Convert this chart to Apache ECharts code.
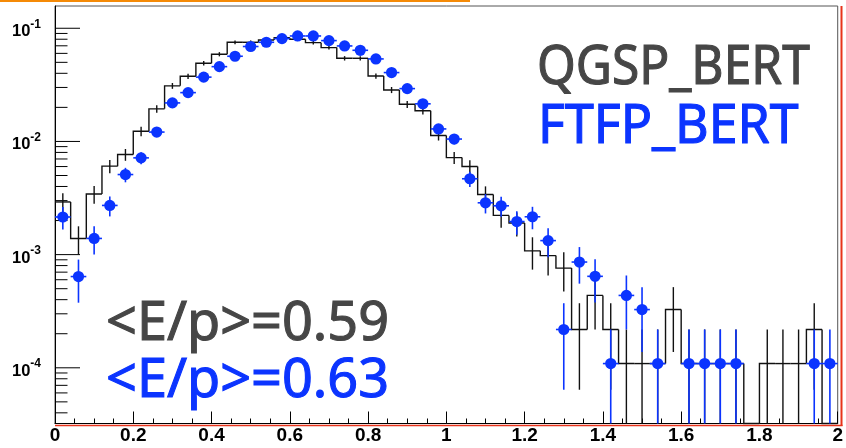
<!DOCTYPE html>
<html>
<head>
<meta charset="utf-8">
<script src="https://cdn.jsdelivr.net/npm/echarts@6/dist/echarts.min.js"></script>
<style>
  html, body { margin: 0; padding: 0; background: #fff; }
  #chart { width: 846px; height: 448px; }
</style>
</head>
<body>
<div id="chart"></div>
<script>
// E/p distribution, 50 bins of width 0.04 between 0 and 2
const binWidth = 0.04;
const binCenters = [
  0.02, 0.06, 0.10, 0.14, 0.18, 0.22, 0.26, 0.30, 0.34, 0.38,
  0.42, 0.46, 0.50, 0.54, 0.58, 0.62, 0.66, 0.70, 0.74, 0.78,
  0.82, 0.86, 0.90, 0.94, 0.98, 1.02, 1.06, 1.10, 1.14, 1.18,
  1.22, 1.26, 1.30, 1.34, 1.38, 1.42, 1.46, 1.50, 1.54, 1.58,
  1.62, 1.66, 1.70, 1.74, 1.78, 1.82, 1.86, 1.90, 1.94, 1.98
];

// QGSP_BERT: normalised histogram contents and their errors
const qgspValues = [
  2.92e-3, 1.39e-3, 3.43e-3, 6.05e-3, 7.66e-3, 1.23e-2, 1.94e-2, 3.10e-2, 3.77e-2, 4.91e-2,
  5.90e-2, 7.52e-2, 7.52e-2, 7.88e-2, 8.26e-2, 8.00e-2, 7.46e-2, 6.75e-2, 5.43e-2, 5.43e-2,
  3.79e-2, 2.85e-2, 2.13e-2, 1.87e-2, 1.13e-2, 7.20e-3, 6.00e-3, 3.40e-3, 2.22e-3, 1.90e-3,
  1.08e-3, 9.80e-4, 7.60e-4, 2.18e-4, 4.36e-4, 2.18e-4, 1.09e-4, 1.09e-4, 1.09e-4, 3.27e-4,
  1.09e-4, 1.09e-4, 1.09e-4, 1.09e-4, 0, 1.09e-4, 1.09e-4, 1.09e-4, 2.18e-4, 0
];
const qgspErrors = [
  5.64e-4, 3.89e-4, 6.11e-4, 8.12e-4, 9.14e-4, 1.16e-3, 1.45e-3, 1.84e-3, 2.03e-3, 2.31e-3,
  2.54e-3, 2.86e-3, 2.86e-3, 2.93e-3, 3.00e-3, 2.95e-3, 2.85e-3, 2.71e-3, 2.43e-3, 2.43e-3,
  2.03e-3, 1.76e-3, 1.52e-3, 1.43e-3, 1.11e-3, 8.86e-4, 8.09e-4, 6.09e-4, 4.92e-4, 4.55e-4,
  3.43e-4, 3.27e-4, 2.88e-4, 1.54e-4, 2.18e-4, 1.54e-4, 1.09e-4, 1.09e-4, 1.09e-4, 1.89e-4,
  1.09e-4, 1.09e-4, 1.09e-4, 1.09e-4, 0, 1.09e-4, 1.09e-4, 1.09e-4, 1.54e-4, 0
];

// FTFP_BERT: normalised contents and their errors
const ftfpValues = [
  2.15e-3, 6.40e-4, 1.39e-3, 2.72e-3, 5.10e-3, 7.16e-3, 1.21e-2, 2.19e-2, 2.70e-2, 3.70e-2,
  4.58e-2, 5.66e-2, 6.90e-2, 7.52e-2, 8.10e-2, 8.55e-2, 8.55e-2, 7.78e-2, 6.98e-2, 6.39e-2,
  5.36e-2, 4.06e-2, 2.93e-2, 2.15e-2, 1.29e-2, 1.05e-2, 4.68e-3, 2.87e-3, 2.70e-3, 1.96e-3,
  2.16e-3, 1.33e-3, 2.18e-4, 8.60e-4, 6.43e-4, 1.09e-4, 4.36e-4, 3.27e-4, 1.09e-4, 0,
  1.09e-4, 1.09e-4, 1.09e-4, 1.09e-4, 0, 0, 0, 0, 1.09e-4, 1.09e-4
];
const ftfpErrors = [
  4.84e-4, 2.64e-4, 3.89e-4, 5.44e-4, 7.46e-4, 8.83e-4, 1.15e-3, 1.55e-3, 1.72e-3, 2.01e-3,
  2.23e-3, 2.48e-3, 2.74e-3, 2.86e-3, 2.97e-3, 3.05e-3, 3.05e-3, 2.91e-3, 2.76e-3, 2.64e-3,
  2.42e-3, 2.10e-3, 1.79e-3, 1.53e-3, 1.19e-3, 1.07e-3, 7.14e-4, 5.59e-4, 5.42e-4, 4.62e-4,
  4.85e-4, 3.81e-4, 1.54e-4, 3.06e-4, 2.65e-4, 1.09e-4, 2.18e-4, 1.89e-4, 1.09e-4, 0,
  1.09e-4, 1.09e-4, 1.09e-4, 1.09e-4, 0, 0, 0, 0, 1.09e-4, 1.09e-4
];

// Log-axis range and tick marks (decades plus 2..9 sub-ticks)
const yMin = 3.22e-5;
const yMax = 0.1573;
const yMajorTicks = [1e-4, 1e-3, 1e-2, 1e-1];
const yMinorTicks = [
  4e-5, 5e-5, 6e-5, 7e-5, 8e-5, 9e-5,
  2e-4, 3e-4, 4e-4, 5e-4, 6e-4, 7e-4, 8e-4, 9e-4,
  2e-3, 3e-3, 4e-3, 5e-3, 6e-3, 7e-3, 8e-3, 9e-3,
  2e-2, 3e-2, 4e-2, 5e-2, 6e-2, 7e-2, 8e-2, 9e-2
];

const meanQgsp = '0.59';
const meanFtfp = '0.63';

const BLUE = '#0b34ff';
const GREY = '#464646';

const clampY = v => (v <= yMin ? yMin : (v >= yMax ? yMax : v));

// large annotation text, slightly emboldened with a thin outline of the same colour
function bigText(str, x, y, color, sx) {
  return {
    type: 'text', x: x, y: y, scaleX: sx, z: 20,
    style: {
      text: str, fill: color, stroke: color, lineWidth: 1.1,
      font: '54px "Noto Sans"', textAlign: 'left', textVerticalAlign: 'middle'
    }
  };
}

const chart = echarts.init(document.getElementById('chart'), null, { renderer: 'canvas' });

chart.setOption({
  animation: false,
  backgroundColor: '#ffffff',
  grid: {
    left: 55, right: 6.5, top: 6, bottom: 24.5,
    show: true, borderColor: '#555555', borderWidth: 1, backgroundColor: 'transparent'
  },
  xAxis: {
    type: 'value', min: 0, max: 2, interval: 0.2,
    axisLine: { show: true, onZero: false, lineStyle: { color: '#000', width: 1 } },
    axisTick: { show: true, inside: true, length: 12, lineStyle: { color: '#000', width: 1 } },
    minorTick: { show: true, splitNumber: 4, length: 5, lineStyle: { color: '#000', width: 1 } },
    splitLine: { show: false },
    axisLabel: {
      color: '#000', fontSize: 19, fontWeight: 'bold', fontFamily: 'Liberation Sans',
      margin: 3, showMaxLabel: true, showMinLabel: true
    }
  },
  yAxis: {
    type: 'log', logBase: 10, min: yMin, max: yMax,
    axisLine: { show: true, onZero: false, lineStyle: { color: '#000', width: 1 } },
    axisTick: { show: false },
    minorTick: { show: false },
    splitLine: { show: false },
    axisLabel: {
      margin: 14,
      showMinLabel: false, showMaxLabel: false,
      formatter: function (v) {
        const e = Math.log10(v);
        const r = Math.round(e);
        if (Math.abs(e - r) > 1e-6) return '';
        return '{b|10}{s|' + r + '}';
      },
      rich: {
        b: { fontSize: 16.5, fontWeight: 'bold', fontFamily: 'Liberation Sans', color: '#000',
             lineHeight: 24, verticalAlign: 'bottom' },
        s: { fontSize: 12, fontWeight: 'bold', fontFamily: 'Liberation Sans', color: '#000',
             lineHeight: 24, verticalAlign: 'top', padding: [2, 0, 0, 0] }
      }
    }
  },
  series: [
    {
      // y-axis tick marks at decades and sub-decades
      type: 'custom', silent: true, z: 3,
      data: yMajorTicks.map(v => [0, v, 25]).concat(yMinorTicks.map(v => [0, v, 12.5])),
      renderItem: function (params, api) {
        const p = api.coord([api.value(0), api.value(1)]);
        const len = api.value(2);
        return {
          type: 'line',
          shape: { x1: p[0], y1: p[1], x2: p[0] + len, y2: p[1] },
          style: { stroke: '#000', lineWidth: 1 }
        };
      }
    },
    {
      // QGSP_BERT step histogram
      type: 'custom', silent: true, z: 4,
      data: binCenters.map((x, i) => [x, qgspValues[i]]),
      renderItem: function (params, api) {
        const i = params.dataIndex;
        const x = binCenters[i];
        const v = clampY(qgspValues[i]);
        const pv = i > 0 ? clampY(qgspValues[i - 1]) : v;
        const a = api.coord([x - binWidth / 2, pv]);
        const b = api.coord([x - binWidth / 2, v]);
        const c = api.coord([x + binWidth / 2, v]);
        return {
          type: 'polyline',
          shape: { points: [a, b, c] },
          style: { stroke: '#111', lineWidth: 1.4, fill: null }
        };
      }
    },
    {
      // QGSP_BERT error bars
      type: 'custom', silent: true, z: 4,
      data: binCenters.map((x, i) => [x, qgspValues[i], qgspErrors[i]]),
      renderItem: function (params, api) {
        const i = params.dataIndex;
        const v = qgspValues[i], e = qgspErrors[i];
        if (!(e > 0)) return null;
        const lo = api.coord([binCenters[i], clampY(v - e)]);
        const hi = api.coord([binCenters[i], clampY(v + e)]);
        return {
          type: 'line',
          shape: { x1: lo[0], y1: lo[1], x2: hi[0], y2: hi[1] },
          style: { stroke: '#111', lineWidth: 1.4 }
        };
      }
    },
    {
      // FTFP_BERT points with horizontal bin bars and vertical error bars
      type: 'custom', silent: true, z: 5,
      data: binCenters.map((x, i) => [x, ftfpValues[i], ftfpErrors[i]]),
      renderItem: function (params, api) {
        const i = params.dataIndex;
        const x = binCenters[i];
        const v = ftfpValues[i], e = ftfpErrors[i];
        if (!(v > 0)) return null;
        const p = api.coord([x, v]);
        const l = api.coord([x - binWidth / 2, v]);
        const r = api.coord([x + binWidth / 2, v]);
        const lo = api.coord([x, clampY(v - e)]);
        const hi = api.coord([x, clampY(v + e)]);
        return {
          type: 'group',
          children: [
            { type: 'line', shape: { x1: l[0], y1: l[1], x2: r[0], y2: r[1] },
              style: { stroke: BLUE, lineWidth: 1.6 } },
            { type: 'line', shape: { x1: lo[0], y1: lo[1], x2: hi[0], y2: hi[1] },
              style: { stroke: BLUE, lineWidth: 1.6 } },
            { type: 'circle', shape: { cx: p[0], cy: p[1], r: 5.6 },
              style: { fill: BLUE } }
          ]
        };
      }
    }
  ],
  graphic: [
    // accent strip along the top edge
    { type: 'rect', shape: { x: 0, y: 0, width: 470, height: 2 }, style: { fill: '#f58a07' }, z: 10 },
    // red edges of the frame
    { type: 'line', shape: { x1: 841.5, y1: 6, x2: 841.5, y2: 426 }, style: { stroke: '#e8331a', lineWidth: 2 }, z: 10 },
    { type: 'line', shape: { x1: 55, y1: 425.5, x2: 842.5, y2: 425.5 }, style: { stroke: '#e8331a', lineWidth: 1.5 }, z: 10 },
    // model names
    bigText('QGSP_BERT', 537, 69, GREY, 0.92),
    bigText('FTFP_BERT', 538, 128, BLUE, 0.96),
    // mean values
    bigText('<E/p>=' + meanQgsp, 106, 325, GREY, 1),
    bigText('<E/p>=' + meanFtfp, 106, 382, BLUE, 1)
  ]
});
</script>
</body>
</html>
